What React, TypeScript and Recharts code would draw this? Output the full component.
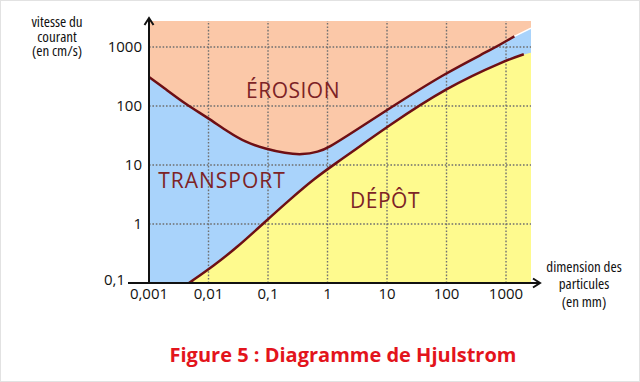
import { Area, ComposedChart, Line, XAxis, YAxis } from 'recharts'

// Hjulstrom diagram: log-log, particle size (mm) vs current speed (cm/s)
const xTicks = [0.001, 0.01, 0.1, 1, 10, 100, 1000]
const yTicks = [0.1, 1, 10, 100, 1000]
const X_DOMAIN = [0.001, 2630]
const Y_DOMAIN = [0.1, 2750]

// erosion threshold curve
const erosionSize = [0.001, 0.0019, 0.0041, 0.0095, 0.0219, 0.0419, 0.0908, 0.196, 0.376, 0.714, 1, 2.73, 9.8, 100, 590, 1380]
const erosionSpeed = [310, 194, 108, 64, 35.8, 24.3, 18.7, 15.8, 14.8, 16.8, 19.2, 36.5, 84.5, 372, 912, 1510]

// deposition curve
const depositSize = [0.0047, 0.0123, 0.0303, 0.085, 0.239, 0.589, 1.456, 2.77, 9.75, 100, 1018, 1990]
const depositSpeed = [0.1, 0.197, 0.403, 1.04, 2.65, 5.8, 11.1, 17.5, 43.5, 207, 600, 752]

// where the coloured bands meet the right edge of the plot
const edgeSize = 2630
const erosionEdgeSpeed = 2075
const depositEdgeSpeed = 800

const ORANGE = '#fbc8a8'
const BLUE = '#a9d3fb'
const YELLOW = '#fefa8e'
const CURVE = '#6e0f14'
const LABEL = '#7d2326'
const GRID = '#6f6f6f'
const FONT = "'Open Sans', sans-serif"

const toPoints = (xs: number[], ys: number[]) => xs.map((x, i) => ({ x, y: ys[i] }))

const erosionData = toPoints(erosionSize, erosionSpeed)
const depositData = toPoints(depositSize, depositSpeed)
const transportFill = [...erosionData, { x: edgeSize, y: erosionEdgeSpeed }]
const depositFill = [...depositData, { x: edgeSize, y: depositEdgeSpeed }]
const erosionFill = [
  { x: X_DOMAIN[0], y: Y_DOMAIN[1] },
  { x: X_DOMAIN[1], y: Y_DOMAIN[1] },
]
// thin white seam between the erosion zone and the band beyond the curve's end
const seamData = [erosionData[erosionData.length - 1], { x: edgeSize, y: erosionEdgeSpeed }]

// dotted grid, one short series per decade so it sits above the coloured zones
const verticalGrid = xTicks.slice(1).map((t) => [
  { x: t, y: Y_DOMAIN[0] },
  { x: t, y: Y_DOMAIN[1] },
])
const horizontalGrid = yTicks.slice(1).map((t) => [
  { x: X_DOMAIN[0], y: t },
  { x: X_DOMAIN[1], y: t },
])

const frNumber = (v: number) => String(v).replace('.', ',')

function XTick({ x, y, payload }: any) {
  return (
    <text x={x} y={y} dy="0.71em" textAnchor="middle" fontSize={15} fontFamily={FONT} fill="#111">
      {frNumber(payload.value)}
    </text>
  )
}

function YTick({ x, y, payload }: any) {
  const low = payload.value === 0.1
  return (
    <text x={low ? x - 17 : x} y={y} dy={low ? '0.1em' : '0.35em'} textAnchor="end" fontSize={15} fontFamily={FONT} fill="#111">
      {frNumber(payload.value)}
    </text>
  )
}

export default function App() {
  return (
    <div style={{ position: 'absolute', left: 0, top: 0, width: 640, height: 382, background: '#fff', boxSizing: 'border-box', border: '1px solid #e2e2e2' }}>
      <ComposedChart width={638} height={380} margin={{ top: 20, right: 108, bottom: 68, left: 88 }} style={{ position: 'absolute', left: 0, top: 0 }}>
        <XAxis
          type="number"
          dataKey="x"
          scale="log"
          domain={X_DOMAIN}
          ticks={xTicks}
          allowDataOverflow
          axisLine={false}
          tickLine={false}
          tickSize={0}
          tickMargin={5}
          height={30}
          tick={<XTick />}
        />
        <YAxis
          type="number"
          dataKey="y"
          scale="log"
          domain={Y_DOMAIN}
          ticks={yTicks}
          allowDataOverflow
          axisLine={false}
          tickLine={false}
          tickSize={0}
          tickMargin={7}
          width={60}
          tick={<YTick />}
        />
        <Area data={erosionFill} dataKey="y" type="linear" fill={ORANGE} fillOpacity={1} stroke="none" baseValue={0.1} isAnimationActive={false} />
        <Area data={transportFill} dataKey="y" type="basis" fill={BLUE} fillOpacity={1} stroke="none" baseValue={0.1} isAnimationActive={false} />
        <Area data={depositFill} dataKey="y" type="basis" fill={YELLOW} fillOpacity={1} stroke="none" baseValue={0.1} isAnimationActive={false} />
        {verticalGrid.map((pts) => (
          <Line key={`gx${pts[0].x}`} data={pts} dataKey="y" type="linear" stroke={GRID} strokeWidth={1.4} strokeDasharray="1.6 1.8" dot={false} activeDot={false} isAnimationActive={false} />
        ))}
        {horizontalGrid.map((pts) => (
          <Line key={`gy${pts[0].y}`} data={pts} dataKey="y" type="linear" stroke={GRID} strokeWidth={1.4} strokeDasharray="1.6 1.8" dot={false} activeDot={false} isAnimationActive={false} />
        ))}
        <Line data={seamData} dataKey="y" type="linear" stroke="#fff" strokeWidth={1.5} dot={false} isAnimationActive={false} />
        <Line data={erosionData} dataKey="y" type="basis" stroke={CURVE} strokeWidth={2.5} dot={false} isAnimationActive={false} />
        <Line data={depositData} dataKey="y" type="basis" stroke={CURVE} strokeWidth={2.5} dot={false} isAnimationActive={false} />
      </ComposedChart>
      <svg width={640} height={382} style={{ position: 'absolute', left: -1, top: -1, pointerEvents: 'none' }}>
        <g stroke="#111" strokeWidth={2} fill="none">
          <line x1={149} y1={284} x2={149} y2={18} />
          <polyline points="144.5,25 149,18 153.5,25" />
          <line x1={128} y1={283} x2={540} y2={283} />
          <polyline points="533,278.5 540,283 533,287.5" />
        </g>
        <g fontFamily={FONT} fontSize={15} fill="#111" textAnchor="middle" style={{ fontStretch: '85%' }}>
          <text x={57}>
            <tspan x={57} y={27}>vitesse du</tspan>
            <tspan x={57} y={41.5}>courant</tspan>
            <tspan x={57} y={56}>(en cm/s)</tspan>
          </text>
          <text x={584}>
            <tspan x={584} y={272}>dimension des</tspan>
            <tspan x={584} y={289}>particules</tspan>
            <tspan x={584} y={307}>(en mm)</tspan>
          </text>
        </g>
        <g fontFamily={FONT} fontSize={21} fill={LABEL} textAnchor="middle">
          <text x={293} y={98} letterSpacing={0.5}>ÉROSION</text>
          <text x={222} y={188} letterSpacing={1}>TRANSPORT</text>
          <text x={385} y={208} letterSpacing={0.5}>DÉPÔT</text>
        </g>
        <text x={343} y={362} textAnchor="middle" fontFamily={FONT} fontWeight="bold" fontSize={20} fill="#e3141c">
          Figure 5 : Diagramme de Hjulstrom
        </text>
      </svg>
    </div>
  )
}
